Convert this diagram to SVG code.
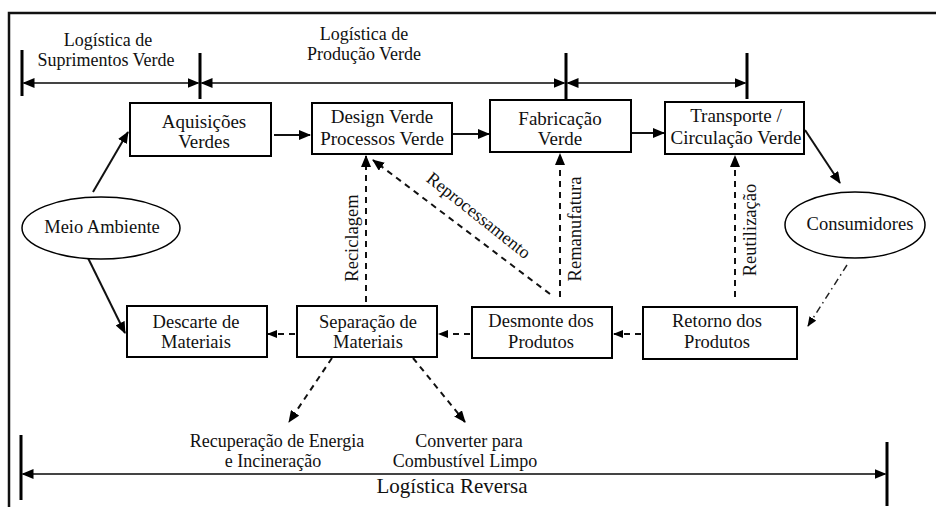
<svg xmlns="http://www.w3.org/2000/svg" width="936" height="507" viewBox="0 0 936 507">
<style>
text{font-family:'Liberation Serif',Tinos,'Times New Roman','DejaVu Serif',serif;font-size:18px;fill:#111;text-anchor:middle}
.t19{font-size:19px}
.t185{font-size:18.5px}
.box{fill:#fff;stroke:#000;stroke-width:2}
.ell{fill:#fff;stroke:#000;stroke-width:1.5}
.solid{fill:none;stroke:#111;stroke-width:2}
.dash{fill:none;stroke:#111;stroke-width:2;stroke-dasharray:6 5}
.dashdot{fill:none;stroke:#222;stroke-width:1.5;stroke-dasharray:7 4 1.5 4}
.brk{fill:none;stroke:#444;stroke-width:2}
.tick{fill:none;stroke:#000;stroke-width:3}
.frame{fill:none;stroke:#111;stroke-width:2.5}
</style>
<defs>
<marker id="a" markerUnits="userSpaceOnUse" markerWidth="12" markerHeight="10" refX="11" refY="5" orient="auto"><path d="M0,0 L12,5 L0,10 z" fill="#000"/></marker>
<marker id="as" markerUnits="userSpaceOnUse" markerWidth="10" markerHeight="8" refX="9" refY="4" orient="auto"><path d="M0,0 L10,4 L0,8 z" fill="#000"/></marker>
<marker id="b" markerUnits="userSpaceOnUse" markerWidth="12" markerHeight="10" refX="11" refY="5" orient="auto-start-reverse"><path d="M0,0 L12,5 L0,10 z" fill="#000"/></marker>
</defs>

<g id="frame">
<path class="frame" d="M9,507 V13 H936"/>
</g>

<g id="brackets">
<path class="tick" d="M22,50 V96 M200,53 V99 M566,53 V99 M747,53 V99 M21,435 V500 M887,442 V506"/>
<line class="brk" x1="23.5" y1="83" x2="198.5" y2="83" marker-start="url(#b)" marker-end="url(#b)"/>
<line class="brk" x1="201.5" y1="83" x2="564.5" y2="83" marker-start="url(#b)" marker-end="url(#b)"/>
<line class="brk" x1="567.5" y1="83" x2="745.5" y2="83" marker-start="url(#b)" marker-end="url(#b)"/>
<line class="brk" x1="22.5" y1="474" x2="885.5" y2="474" marker-start="url(#b)" marker-end="url(#b)"/>
<text x="108" y="46">Logística de</text>
<text x="106" y="66">Suprimentos Verde</text>
<text x="364" y="40">Logística de</text>
<text x="364" y="60">Produção Verde</text>
<text x="452" y="493" style="font-size:21px">Logística Reversa</text>
</g>

<g id="connectors">
<line class="solid" x1="93" y1="192" x2="128" y2="132" marker-end="url(#a)"/>
<line class="solid" x1="88" y1="258" x2="125" y2="333" marker-end="url(#a)"/>
<line class="solid" x1="274" y1="135" x2="310" y2="135" marker-end="url(#a)"/>
<line class="solid" x1="453" y1="134" x2="489" y2="134" marker-end="url(#a)"/>
<line class="solid" x1="632" y1="133" x2="664" y2="133" marker-end="url(#a)"/>
<line class="solid" x1="805" y1="130" x2="840" y2="183" marker-end="url(#a)"/>
<line class="dashdot" x1="847" y1="265" x2="808" y2="326" marker-end="url(#as)"/>
<line class="dash" x1="641" y1="334" x2="614" y2="334" marker-end="url(#as)"/>
<line class="dash" x1="470" y1="334" x2="439" y2="334" marker-end="url(#as)"/>
<line class="dash" x1="295" y1="334" x2="268" y2="334" marker-end="url(#as)"/>
<line class="dash" x1="366" y1="302" x2="366" y2="156" marker-end="url(#a)"/>
<line class="dash" x1="550" y1="294" x2="373" y2="160" marker-end="url(#a)"/>
<line class="dash" x1="560" y1="297" x2="560" y2="154" marker-end="url(#a)"/>
<line class="dash" x1="735" y1="297" x2="735" y2="156" marker-end="url(#a)"/>
<line class="dash" x1="332" y1="358" x2="289" y2="422" marker-end="url(#a)"/>
<line class="dash" x1="413" y1="358" x2="465" y2="422" marker-end="url(#a)"/>
<text class="t185" transform="translate(358,238) rotate(-90)">Reciclagem</text>
<text class="t185" transform="translate(581,229) rotate(-90)">Remanufatura</text>
<text class="t185" transform="translate(756,230) rotate(-90)">Reutilização</text>
<text transform="translate(475,220) rotate(38.5)">Reprocessamento</text>
</g>

<g id="aquisicoes">
<rect class="box" x="130" y="103" width="141" height="53"/>
<text class="t19" x="204" y="128">Aquisições</text>
<text class="t19" x="204" y="148">Verdes</text>
</g>
<g id="design">
<rect class="box" x="312" y="103" width="140" height="51"/>
<text class="t19" x="382" y="123">Design Verde</text>
<text class="t19" x="382" y="145">Processos Verde</text>
</g>
<g id="fabricacao">
<rect class="box" x="490" y="100" width="141" height="52"/>
<text class="t19" x="560" y="125">Fabricação</text>
<text class="t19" x="560" y="145">Verde</text>
</g>
<g id="transporte">
<rect class="box" x="665" y="102" width="139" height="52"/>
<text class="t19" x="736" y="122">Transporte /</text>
<text class="t19" x="736" y="144">Circulação Verde</text>
</g>
<g id="meio-ambiente">
<ellipse class="ell" cx="101" cy="228" rx="79" ry="31"/>
<text class="t185" x="102" y="233">Meio Ambiente</text>
</g>
<g id="consumidores">
<ellipse class="ell" cx="855" cy="225" rx="70" ry="33"/>
<text class="t185" x="860" y="230">Consumidores</text>
</g>
<g id="descarte">
<rect class="box" x="127" y="306" width="140" height="51"/>
<text class="t185" x="196" y="328">Descarte de</text>
<text class="t185" x="196" y="348">Materiais</text>
</g>
<g id="separacao">
<rect class="box" x="297" y="306" width="140" height="51"/>
<text class="t185" x="368" y="328">Separação de</text>
<text class="t185" x="368" y="348">Materiais</text>
</g>
<g id="desmonte">
<rect class="box" x="472" y="307" width="140" height="51"/>
<text class="t185" x="541" y="327">Desmonte dos</text>
<text class="t185" x="541" y="348">Produtos</text>
</g>
<g id="retorno">
<rect class="box" x="643" y="307" width="154" height="52"/>
<text class="t185" x="717" y="327">Retorno dos</text>
<text class="t185" x="717" y="348">Produtos</text>
</g>
<g id="recuperacao">
<text x="277" y="447">Recuperação de Energia</text>
<text x="273" y="467">e Incineração</text>
</g>
<g id="converter">
<text x="469" y="447">Converter para</text>
<text x="465" y="467">Combustível Limpo</text>
</g>
</svg>
